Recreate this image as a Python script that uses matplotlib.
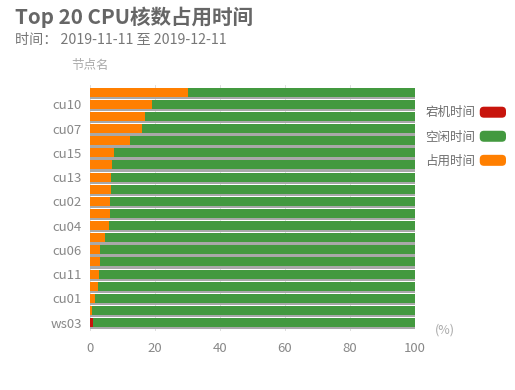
import matplotlib
matplotlib.use("Agg")
import matplotlib.pyplot as plt
from matplotlib.patches import FancyBboxPatch, Rectangle
from matplotlib.legend_handler import HandlerPatch
import numpy as np

plt.rcParams['font.family'] = ['Noto Sans CJK SC', 'DejaVu Sans']

categories = ["ws03", "cu18", "cu01", "cu16", "cu11", "cu09", "cu06", "cu05",
              "cu04", "cu03", "cu02", "cu14", "cu13", "cu12", "cu15", "cu08",
              "cu07", "cu17", "cu10", "cu19"]
down = [0.9, 0, 0, 0, 0, 0, 0, 0, 0, 0, 0, 0, 0, 0, 0, 0, 0, 0, 0, 0]
used = [0.0, 0.6, 1.6, 2.4, 2.9, 3.1, 3.2, 4.7, 5.7, 6.3, 6.2, 6.4, 6.5, 6.7,
        7.3, 12.3, 16.1, 17.0, 19.2, 30.0]
idle = [100 - d - u for d, u in zip(down, used)]
series_names = ["宕机时间", "空闲时间", "占用时间"]
colors = ["#c8140c", "#43993f", "#ff7f00"]

fig = plt.figure(figsize=(5.15, 3.9), dpi=100)
ax = fig.add_axes([90/515, 1-331/390, 325/515, 246/390])

y = np.arange(len(categories))
h = 0.74
total = np.array(down) + np.array(used) + np.array(idle)
# shadow
ax.barh(y - 0.2, total, height=h, color="#a8a8a8", zorder=1)
left = np.zeros(len(categories))
vals = [down, idle, used]
for i in [0, 2, 1]:
    ax.barh(y, vals[i], height=h, left=left, color=colors[i], zorder=2)
    left += np.array(vals[i])

ax.set_xlim(0, 100)
ax.set_ylim(-0.7, len(categories) - 0.4)
ax.set_yticks(y[::2])
ax.set_yticklabels(categories[::2])
ax.set_xticks([0, 20, 40, 60, 80, 100])
ax.tick_params(axis='both', length=0, colors="#888888", labelsize=9.5)
ax.tick_params(axis='y', pad=6)
ax.tick_params(axis='x', pad=8)
for s in ax.spines.values():
    s.set_visible(False)
ax.grid(axis='x', color="#d8d8d8", linewidth=0.6, zorder=0)
ax.set_axisbelow(True)

fig.text(15/515, 1-17/390, "Top 20 CPU核数占用时间", fontsize=14.8, fontweight='bold',
         color="#666666", va='center', ha='left')
fig.text(15/515, 1-40/390, "时间： 2019-11-11 至 2019-12-11", fontsize=10.2,
         color="#777777", va='center', ha='left')
fig.text(90/515, 1-65/390, "节点名", fontsize=9, color="#aaaaaa", va='center', ha='center')
fig.text(445/515, 1-330/390, "(%)", fontsize=9, color="#aaaaaa", va='center', ha='center')

class RoundHandler(HandlerPatch):
    def create_artists(self, legend, orig_handle, xdescent, ydescent, width, height, fontsize, trans):
        p = FancyBboxPatch((-xdescent, -ydescent + 0.5), width, height - 1,
                           boxstyle="round,pad=0,rounding_size=3",
                           facecolor=orig_handle.get_facecolor(), edgecolor='none',
                           transform=trans)
        return [p]

handles = [Rectangle((0, 0), 1, 1, facecolor=c) for c in colors]
leg = fig.legend(handles, series_names, loc='upper right', bbox_to_anchor=(511/515, 1-101/390),
                 frameon=False, markerfirst=False, handlelength=2.1, handleheight=1.15,
                 labelspacing=0.85, fontsize=9, labelcolor="#6e6e6e",
                 handletextpad=0.35, borderaxespad=0,
                 handler_map={Rectangle: RoundHandler()})

fig.savefig("out.png", dpi=100)
